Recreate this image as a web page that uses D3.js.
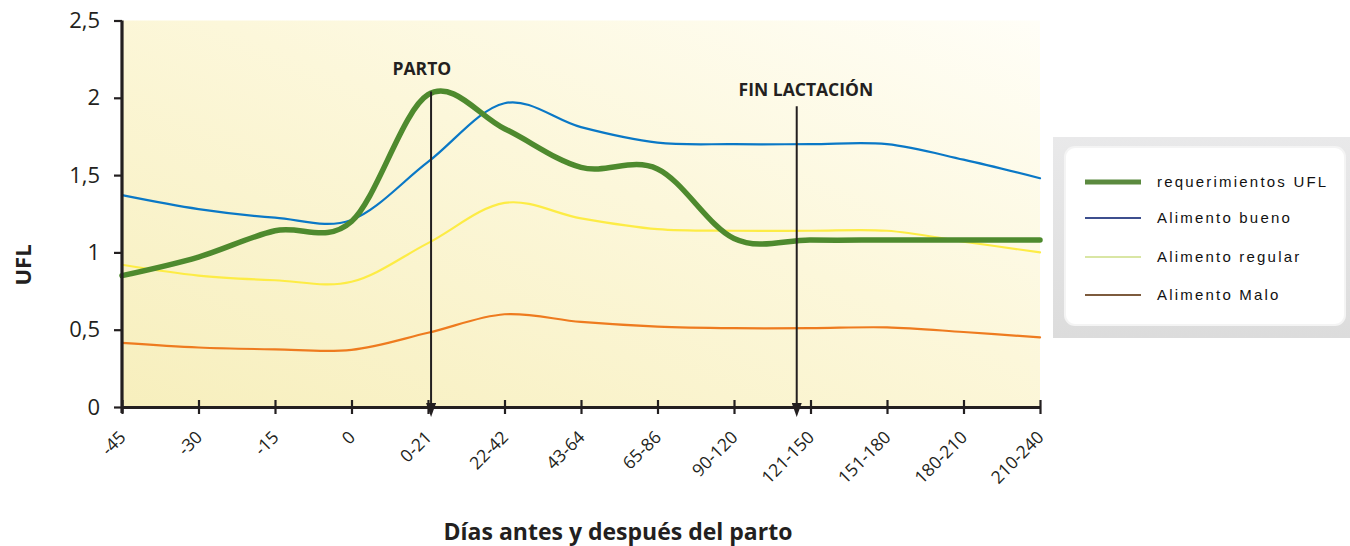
<!DOCTYPE html>
<html>
<head>
<meta charset="utf-8">
<script src="https://cdn.jsdelivr.net/npm/d3@7"></script>
<style>
  body { margin: 0; background: #ffffff; }
  svg text { font-family: "Open Sans", sans-serif; fill: #231f20; }
</style>
</head>
<body>
<div id="vis"></div>
<script>
var w = 1350;
var h = 546;

// categories (días antes y después del parto)
var categories = ['-45', '-30', '-15', '0', '0-21', '22-42', '43-64', '65-86',
  '90-120', '121-150', '151-180', '180-210', '210-240'];

// UFL values
var requerimientos = [0.85, 0.97, 1.14, 1.20, 2.02, 1.80, 1.55, 1.54, 1.09, 1.08, 1.08, 1.08, 1.08];
var bueno = [1.37, 1.28, 1.225, 1.21, 1.585, 1.965, 1.81, 1.71, 1.70, 1.70, 1.70, 1.60, 1.48];
var regular = [0.92, 0.85, 0.82, 0.81, 1.06, 1.32, 1.22, 1.15, 1.14, 1.14, 1.14, 1.07, 1.00];
var malo = [0.415, 0.385, 0.373, 0.37, 0.48, 0.60, 0.55, 0.52, 0.51, 0.51, 0.515, 0.485, 0.45];

var yTicks = [0, 0.5, 1, 1.5, 2, 2.5];

var seriesNames = ['requerimientos UFL', 'Alimento bueno', 'Alimento regular', 'Alimento Malo'];
var seriesColors = ['#4e8a2e', '#0a78c6', '#fdec45', '#ee7b1f'];
var legendColors = ['#5b8a3f', '#3d4f8e', '#d9e6a4', '#7d5b3e'];

// annotations: label, position on category index, top value
var annotations = [
  { label: 'PARTO', pos: 4.04, top: 2.04, labelValue: 2.15, labelPos: 3.92 },
  { label: 'FIN LACTACIÓN', pos: 8.82, top: 1.945, labelValue: 2.01, labelPos: 8.94 }
];

var svg = d3.select('#vis')
  .append('svg')
    .attr('width', w)
    .attr('height', h);

var pLeft = 122, pRight = 1040, pTop = 20.5, pBottom = 407;

var x = d3.scalePoint()
  .domain(categories)
  .range([pLeft, pRight]);

var xi = d3.scaleLinear()
  .domain([0, categories.length - 1])
  .range([pLeft, pRight]);

var y = d3.scaleLinear()
  .domain([0, 2.5])
  .range([pBottom, pTop]);

var locale = d3.formatLocale({ decimal: ',', thousands: '.', grouping: [3], currency: ['', '€'] });
var fmt = locale.format('~g');

// background gradient
var defs = svg.append('defs');
var grad = defs.append('linearGradient')
  .attr('id', 'bg')
  .attr('x1', '0%').attr('y1', '100%')
  .attr('x2', '100%').attr('y2', '0%');
grad.append('stop').attr('offset', '0%').attr('stop-color', '#f7efbd');
grad.append('stop').attr('offset', '55%').attr('stop-color', '#fcf7da');
grad.append('stop').attr('offset', '100%').attr('stop-color', '#fffef7');

svg.append('rect')
  .attr('x', pLeft)
  .attr('y', pTop)
  .attr('width', pRight - pLeft)
  .attr('height', pBottom - pTop)
  .style('fill', 'url(#bg)');

// arrow marker (drawn pointing along +x, auto-rotated along the line)
defs.append('marker')
  .attr('id', 'arrow')
  .attr('viewBox', '0 0 14 10')
  .attr('refX', 2).attr('refY', 5)
  .attr('markerWidth', 14).attr('markerHeight', 10)
  .attr('markerUnits', 'userSpaceOnUse')
  .attr('orient', 'auto')
  .append('path')
    .attr('d', 'M0,0 L14,5 L0,10 Z')
    .style('fill', '#231f20');

// lines
var allSeries = [requerimientos, bueno, regular, malo];
var line = d3.line()
  .x(function(d, i) { return x(categories[i]); })
  .y(function(d) { return y(d); })
  .curve(d3.curveCatmullRom.alpha(0));

// draw thin ones first, then the green on top
[1, 2, 3, 0].forEach(function(k) {
  svg.append('path')
    .datum(allSeries[k])
    .attr('d', line)
    .style('fill', 'none')
    .style('stroke', seriesColors[k])
    .style('stroke-width', k === 0 ? 5.5 : 2.2)
    .style('stroke-linecap', 'round');
});

// x axis
var xAxis = svg.append('g')
  .attr('transform', 'translate(0,' + pBottom + ')')
  .call(d3.axisBottom(x).tickSizeInner(7).tickSizeOuter(0).tickPadding(14));
xAxis.select('.domain').style('stroke', '#231f20').style('stroke-width', 3.2);
xAxis.selectAll('.tick line').attr('y1', -7).style('stroke', '#231f20').style('stroke-width', 2.2);
xAxis.selectAll('.tick text')
  .style('font-size', '17.5px')
  .style('font-family', '"Open Sans", sans-serif')
  .style('fill', '#231f20')
  .attr('text-anchor', 'end')
  .attr('dy', '0.35em')
  .attr('x', 0)
  .attr('y', 0)
  .attr('transform', 'translate(0,27) rotate(-45)');

// y axis
var yAxis = svg.append('g')
  .attr('transform', 'translate(' + pLeft + ',0)')
  .call(d3.axisLeft(y).tickValues(yTicks).tickFormat(fmt).tickSizeInner(8).tickSizeOuter(0).tickPadding(14));
yAxis.select('.domain').style('stroke', '#231f20').style('stroke-width', 3.2)
  .attr('d', 'M0,' + pTop + 'V' + (pBottom + 6));
yAxis.selectAll('.tick line').style('stroke', '#231f20').style('stroke-width', 2.2);
yAxis.selectAll('.tick text')
  .style('font-size', '22px')
  .style('font-family', '"Open Sans", sans-serif')
  .style('fill', '#231f20');

// axis titles
svg.append('text')
  .attr('transform', 'translate(31,' + 265 + ') rotate(-90)')
  .attr('text-anchor', 'middle')
  .style('font-size', '22px')
  .style('font-weight', 'bold')
  .text('UFL');

svg.append('text')
  .attr('x', 618)
  .attr('y', 540)
  .attr('text-anchor', 'middle')
  .style('font-size', '23px')
  .style('font-weight', 'bold')
  .text('Días antes y después del parto');

// annotations
annotations.forEach(function(a) {
  svg.append('line')
    .attr('x1', xi(a.pos)).attr('x2', xi(a.pos))
    .attr('y1', y(a.top)).attr('y2', pBottom - 2)
    .style('stroke', '#231f20')
    .style('stroke-width', 2)
    .attr('marker-end', 'url(#arrow)');
  svg.append('text')
    .attr('x', xi(a.labelPos))
    .attr('y', y(a.labelValue))
    .attr('text-anchor', 'middle')
    .style('font-size', '17.5px')
    .style('font-weight', 'bold')
    .text(a.label);
});

// legend
var lg = svg.append('g').attr('transform', 'translate(1053,137)');
var lgGrad = defs.append('linearGradient').attr('id', 'lgbg')
  .attr('x1', '0%').attr('y1', '0%').attr('x2', '0%').attr('y2', '100%');
lgGrad.append('stop').attr('offset', '0%').attr('stop-color', '#e9e9ea');
lgGrad.append('stop').attr('offset', '100%').attr('stop-color', '#dcdcdc');
lg.append('rect')
  .attr('x', 0).attr('y', 0)
  .attr('width', 300).attr('height', 201)
  .style('fill', 'url(#lgbg)');
lg.append('rect')
  .attr('x', 12).attr('y', 10)
  .attr('width', 280).attr('height', 178)
  .attr('rx', 10)
  .style('fill', '#ffffff')
  .style('stroke', '#f4f4f4')
  .style('stroke-width', 2);

var legendY = [45, 81, 120, 158];
seriesNames.forEach(function(name, i) {
  lg.append('line')
    .attr('x1', 32).attr('x2', 88)
    .attr('y1', legendY[i]).attr('y2', legendY[i])
    .style('stroke', legendColors[i])
    .style('stroke-width', i === 0 ? 5 : 2.2);
  lg.append('text')
    .attr('x', 104)
    .attr('y', legendY[i])
    .attr('dy', '0.35em')
    .style('font-size', '15px')
    .style('letter-spacing', '2.2px')
    .style('font-family', '"Liberation Sans", sans-serif')
    .style('fill', '#111111')
    .text(name);
});
</script>
</body>
</html>
